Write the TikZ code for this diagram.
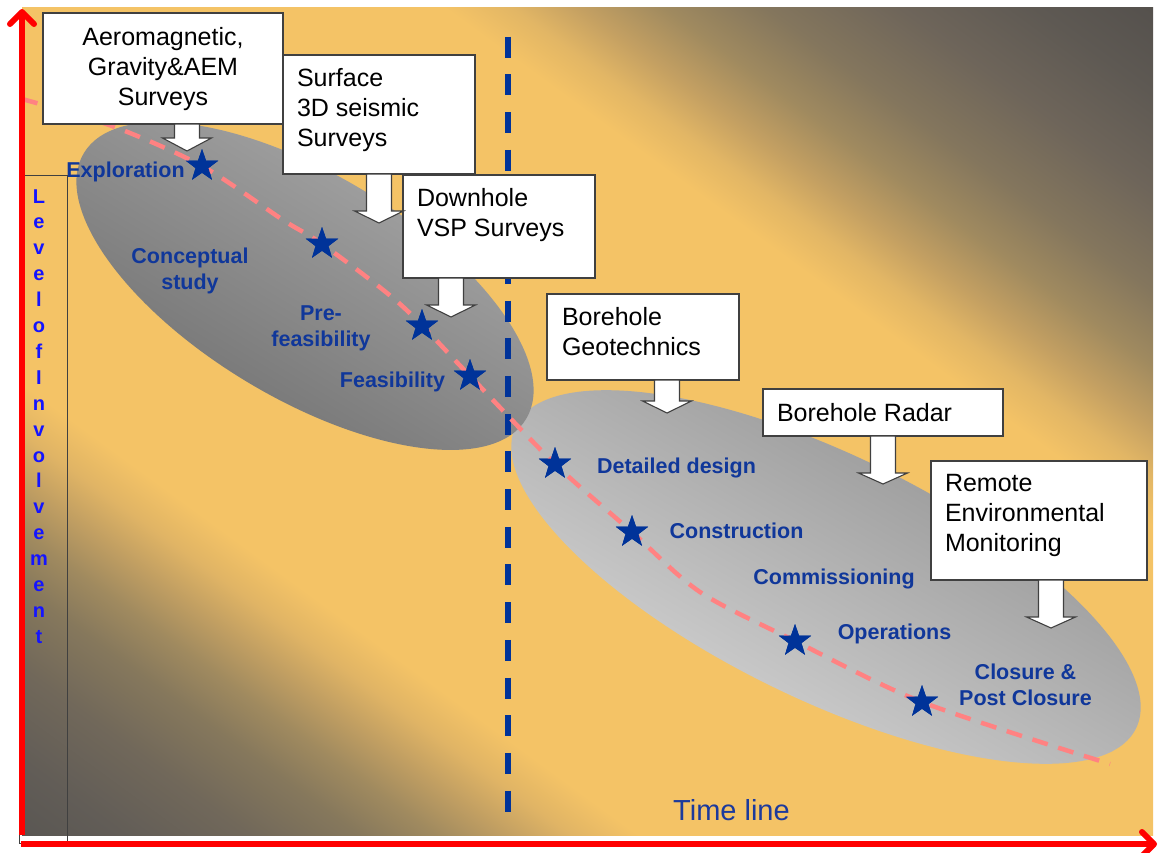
\documentclass[tikz,border=0pt]{standalone}
\usepackage{fontspec}
\setmainfont{Liberation Sans}
\usetikzlibrary{shapes.geometric,arrows.meta,calc}
\definecolor{bgorange}{HTML}{F4C366}
\definecolor{tzero}{HTML}{55514D}
\definecolor{tone}{HTML}{5E5953}
\definecolor{ttwo}{HTML}{6E655A}
\definecolor{tthree}{HTML}{84765D}
\definecolor{tfour}{HTML}{A08A5F}
\definecolor{tfive}{HTML}{C4A062}
\definecolor{tsix}{HTML}{E2B665}
\definecolor{bzero}{HTML}{5A5753}
\definecolor{bone}{HTML}{625D57}
\definecolor{btwo}{HTML}{71685A}
\definecolor{bthree}{HTML}{86785C}
\definecolor{bfour}{HTML}{A08A5F}
\definecolor{bfive}{HTML}{C09E62}
\definecolor{bsix}{HTML}{E0B465}
\definecolor{eonedark}{HTML}{6C6C6C}
\definecolor{eonelight}{HTML}{ACACAC}
\definecolor{etwolight}{HTML}{DCDCDC}
\definecolor{etwodark}{HTML}{8C8C8C}
\definecolor{starblue}{HTML}{003399}
\definecolor{lblblue}{HTML}{10379A}
\definecolor{vblue}{HTML}{1414FF}
\definecolor{tlblue}{HTML}{1C3A9C}
\definecolor{pinkline}{HTML}{FF8282}
\definecolor{axisred}{HTML}{FF0000}
\definecolor{boxline}{HTML}{404040}
\pgfdeclareverticalshading{bgdiag}{100bp}{color(0bp)=(bzero); color(25.07bp)=(bzero); color(27.24bp)=(bone); color(30.04bp)=(btwo); color(32.46bp)=(bthree); color(34.14bp)=(bfour); color(35.63bp)=(bfive); color(37.13bp)=(bsix); color(38.62bp)=(bgorange); color(59.33bp)=(bgorange); color(60.82bp)=(tsix); color(62.31bp)=(tfive); color(64.18bp)=(tfour); color(66.42bp)=(tthree); color(69.40bp)=(ttwo); color(72.39bp)=(tone); color(74.93bp)=(tzero); color(100bp)=(tzero)}
\newcommand\cbox[3]{\parbox[t][#1][t]{#2}{\centering\rule{0pt}{32pt}#3}}
\newcommand\lbox[5]{\parbox[t][#1][t]{#2}{\raggedright\leftskip=#3\relax\rule{0pt}{#4}#5}}
\newcommand\blockarrow[3]{\filldraw[barrow] (#1) ++(-12.5,0) -- ++(0,#2) -- ++(-12,0) -- ++(24.5,#3) -- ++(24.5,-#3) -- ++(-12,0) -- ++(0,-#2) -- cycle;}
\begin{document}
\begin{tikzpicture}[x=1pt,y=-1pt,
  box/.style={draw=boxline, line width=1.3pt, fill=white, inner sep=0pt, outer sep=0pt, anchor=north west, font=\fontsize{25}{30}\selectfont},
  phase/.style={text=lblblue, font=\fontsize{21.5}{26}\selectfont\bfseries, align=center, inner sep=0pt},
  milestone/.style={star, star points=5, star point ratio=2.5, fill=starblue, draw=none, minimum size=34pt, inner sep=0pt},
  vletter/.style={text=vblue, font=\fontsize{20}{24}\selectfont\bfseries, inner sep=0pt, anchor=base},
  barrow/.style={fill=white, draw=boxline, line width=1.1pt, line join=miter},
  axis/.style={draw=axisred, line width=6pt, -{Straight Barb[length=12pt,width=24pt,round]}}]
\useasboundingbox (0,0) rectangle (1159,852);
% background
\begin{scope}
  \clip (22,7) rectangle (1153,835);
  \shade[shading=bgdiag, shading angle=-36.2] (-82.5,-249) rectangle (1257.5,1091);
\end{scope}
% phase ellipses
\shade[top color=etwodark, bottom color=etwolight, shading angle=-30, rotate around={-26:(826,577)}] (826,577) ellipse [x radius=345pt, y radius=122pt];
\shade[top color=eonelight, bottom color=eonedark, shading angle=-31, rotate around={-31:(305,286)}] (305,286) ellipse [x radius=258pt, y radius=112pt];
% time divider
\coordinate (divtop) at (508,36.6);
\coordinate (divbot) at (508,812);
\draw[starblue, line width=6pt, dash pattern=on 21pt off 16.7pt] (divtop) -- (divbot);
% milestones
\node[milestone] (s1) at (202,166) {};
\node[milestone] (s2) at (322,244) {};
\node[milestone] (s3) at (422,326) {};
\node[milestone] (s4) at (470,376) {};
\node[milestone] (s5) at (555,464) {};
\node[milestone] (s6) at (632,532) {};
\node[milestone] (s7) at (795,641) {};
\node[milestone] (s8) at (922,702) {};
\coordinate (pstart) at (22,99);
\coordinate (pend) at (1110,764);
\draw[pinkline, line width=4.5pt, dash pattern=on 16pt off 11pt] plot[smooth, tension=0.5] coordinates {(pstart) (112,126) (s1.center) (283,220) (s2.center) (400,304) (s4.center) (s5.center) (s6.center) (700,592) (s7.center) (s8.center) (pend)};
\foreach \s in {s1,s2,s3,s4,s5,s6,s7,s8} \node[milestone] at (\s.center) {};
% phase labels
\node[phase, anchor=base] (exploration) at (125.5,177) {Exploration};
\node[phase, anchor=north] (conceptual) at (190,247) {\rule{0pt}{16pt}Conceptual\\study};
\node[phase, anchor=north] (prefeas) at (321,304) {\rule{0pt}{16pt}Pre-\\feasibility};
\node[phase, anchor=base] (feas) at (392.5,387) {Feasibility};
\node[phase, anchor=base] (detailed) at (676.5,473) {Detailed design};
\node[phase, anchor=base] (construction) at (736.5,538) {Construction};
\node[phase, anchor=base] (commissioning) at (834,584) {Commissioning};
\node[phase, anchor=base] (operations) at (894.5,639) {Operations};
\node[phase, anchor=north] (closure) at (1025.5,663) {\rule{0pt}{16pt}Closure \&\\Post Closure};
% survey boxes
\node[box] (b1) at (43,13) {\cbox{111pt}{240pt}{Aeromagnetic,\\Gravity\&AEM\\Surveys}};
\node[box] (b2) at (283,55) {\lbox{119pt}{192pt}{14pt}{31pt}{Surface\\3D seismic\\Surveys}};
\node[box] (b3) at (403,175) {\lbox{103pt}{192pt}{14pt}{31pt}{Downhole\\VSP Surveys}};
\node[box] (b4) at (547,294) {\lbox{86pt}{192pt}{15pt}{31pt}{Borehole\\Geotechnics}};
\node[box] (b5) at (763,389) {\lbox{47pt}{240pt}{14pt}{32pt}{Borehole Radar}};
\node[box] (b6) at (931,461) {\lbox{119pt}{216pt}{14pt}{30pt}{Remote\\Environmental\\Monitoring}};
% block arrows
\coordinate (a1) at ($(b1.south west)+(144,0)$);
\coordinate (a2) at ($(b2.south west)+(96,0)$);
\coordinate (a3) at ($(b3.south west)+(48,0)$);
\coordinate (a4) at ($(b4.south west)+(120,0)$);
\coordinate (a5) at ($(b5.south west)+(120,0)$);
\coordinate (a6) at ($(b6.south west)+(120,0)$);
\blockarrow{a1}{14}{13}
\blockarrow{a2}{37}{12}
\blockarrow{a3}{27}{12}
\blockarrow{a4}{21}{12}
\blockarrow{a5}{37}{11}
\blockarrow{a6}{37}{11}
% level of involvement
\node[draw=boxline, line width=1.3pt, minimum width=48pt, minimum height=668pt, inner sep=0pt, anchor=north west] (levelbox) at (19,175) {};
\foreach \ch [count=\i from 0] in {L,e,v,e,l,o,f,I,n,v,o,l,v,e,m,e,n,t}
  \node[vletter] (lv\i) at (39,203+25.9*\i) {\ch};
% axes
\coordinate (yfoot) at (22,835);
\coordinate (ytop) at (22,9);
\coordinate (xfoot) at (21,844);
\coordinate (xend) at (1157,844);
\draw[axis] (yfoot) -- (ytop);
\draw[axis] (xfoot) -- (xend);
\node[text=tlblue, font=\fontsize{29}{34}\selectfont, inner sep=0pt, anchor=base] (timeline) at (731.5,820) {Time line};
\end{tikzpicture}
\end{document}
